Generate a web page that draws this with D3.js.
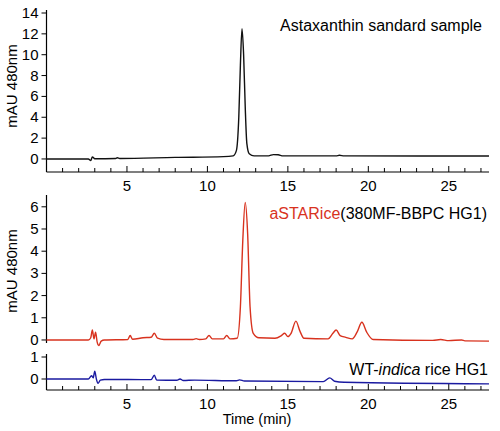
<!DOCTYPE html>
<html><head><meta charset="utf-8">
<script src="https://cdn.jsdelivr.net/npm/d3@7"></script>
<style>body{margin:0;background:#fff}text{font-family:"Liberation Sans",Arial,sans-serif}</style>
</head><body><svg id="c" width="500" height="431"></svg>
<script>
// [time (min), mAU]
const standard = [[0,0],[2.6,0],[2.75,-0.15],[2.85,0.2],[3.0,0.02],[4.3,0.05],[4.4,0.12],[4.55,0.05],[8,0.15],[11,0.22],[11.6,0.3],[11.8,0.8],[11.95,4],[12.05,9],[12.15,12.5],[12.25,10],[12.35,5],[12.45,1.5],[12.6,0.5],[12.9,0.3],[13.8,0.3],[14.1,0.42],[14.4,0.4],[14.7,0.3],[18,0.3],[18.2,0.35],[18.5,0.3],[27.5,0.28]];
const astarice = [[0,0],[2.6,0],[2.75,0.1],[2.85,0.45],[2.95,0.05],[3.05,0.35],[3.15,-0.1],[3.25,-0.25],[3.4,-0.05],[3.6,0],[5.05,0.02],[5.2,0.2],[5.35,0.03],[6.0,0.1],[6.5,0.12],[6.7,0.3],[6.9,0.08],[7.3,0.02],[9.1,0.02],[9.3,0.06],[9.5,0.02],[9.9,0.05],[10.1,0.2],[10.3,0.05],[11.0,0.05],[11.2,0.2],[11.4,0.05],[11.85,0.08],[12.05,1.5],[12.2,4.5],[12.35,6.2],[12.5,4.8],[12.65,1.5],[12.85,0.3],[13.2,0.1],[14.2,0.08],[14.6,0.2],[14.8,0.3],[15.0,0.15],[15.2,0.3],[15.5,0.85],[15.75,0.4],[16.0,0.08],[17.5,0.05],[17.8,0.3],[18.0,0.45],[18.25,0.2],[18.6,0.12],[19.0,0.05],[19.3,0.35],[19.6,0.8],[19.9,0.35],[20.3,0.02],[24,-0.02],[24.5,0.02],[25,-0.03],[25.8,0.0],[26,-0.04],[27.5,-0.05]];
const wildtype = [[0,0],[2.6,0],[2.8,0.15],[2.9,0.05],[3.0,0.35],[3.1,0.0],[3.2,-0.2],[3.35,-0.05],[3.6,-0.02],[6.5,-0.03],[6.7,0.17],[6.85,-0.05],[8.1,-0.06],[8.3,0.0],[8.5,-0.07],[9.2,-0.05],[11.8,-0.08],[12,-0.04],[12.3,-0.09],[17.2,-0.12],[17.6,0.05],[17.9,-0.1],[18.5,-0.15],[27.5,-0.22]];
const xTicks = [5, 10, 15, 20, 25];

const svg = d3.select('#c');
const x = d3.scaleLinear().domain([0, 27.5]).range([46.5, 489]);
const minor = d3.range(1, 28);

function panel(data, color, yDom, yRange, yTicks, xAxisY, axisTop, showX) {
    const y = d3.scaleLinear().domain(yDom).range(yRange);
    const g = svg.append('g');
    g.append('line').attr('x1', x(0)).attr('x2', x(0)).attr('y1', axisTop).attr('y2', xAxisY).attr('stroke', '#000').attr('stroke-width', 1.2);
    yTicks.forEach(t => {
        g.append('line').attr('x1', x(0) - 5).attr('x2', x(0)).attr('y1', y(t)).attr('y2', y(t)).attr('stroke', '#000');
        g.append('text').attr('x', x(0) - 8).attr('y', y(t) + 5).attr('text-anchor', 'end').attr('font-size', 15).text(t);
    });
    if (showX) {
        g.append('line').attr('x1', x(0)).attr('x2', x(27.5)).attr('y1', xAxisY).attr('y2', xAxisY).attr('stroke', '#000').attr('stroke-width', 1.2);
        minor.forEach(t => {
            const major = t % 5 === 0;
            g.append('line').attr('x1', x(t)).attr('x2', x(t)).attr('y1', xAxisY).attr('y2', xAxisY - (major ? 6 : 4)).attr('stroke', '#000');
        });
        xTicks.forEach(t => g.append('text').attr('x', x(t)).attr('y', xAxisY + 19).attr('text-anchor', 'middle').attr('font-size', 15).text(t));
    }
    const line = d3.line().x(d => x(d[0])).y(d => y(d[1])).curve(d3.curveMonotoneX);
    g.append('path').datum(data).attr('d', line).attr('fill', 'none').attr('stroke', color).attr('stroke-width', 1.4);
    return y;
}

panel(standard, '#111', [-1.25, 14], [172, 13], [0, 2, 4, 6, 8, 10, 12, 14], 172, 10, true);
panel(astarice, '#d8321e', [-0.1, 6], [342.2, 206.8], [0, 1, 2, 3, 4, 5, 6], 343, 195, false);
panel(wildtype, '#1a1aa0', [-0.5, 1], [390, 357], [0, 1], 390, 354, true);

svg.append('text').attr('transform', 'translate(17,86) rotate(-90)').attr('text-anchor', 'middle').attr('font-size', 15).text('mAU 480nm');
svg.append('text').attr('transform', 'translate(17,271) rotate(-90)').attr('text-anchor', 'middle').attr('font-size', 15).text('mAU 480nm');
svg.append('text').attr('x', 482).attr('y', 31).attr('text-anchor', 'end').attr('font-size', 16).text('Astaxanthin sandard sample');
const t2 = svg.append('text').attr('x', 487).attr('y', 219).attr('text-anchor', 'end').attr('font-size', 16);
t2.append('tspan').attr('fill', '#d8321e').text('aSTARice');
t2.append('tspan').text('(380MF-BBPC HG1)');
const t3 = svg.append('text').attr('x', 488).attr('y', 375).attr('text-anchor', 'end').attr('font-size', 16);
t3.append('tspan').text('WT-');
t3.append('tspan').attr('font-style', 'italic').text('indica');
t3.append('tspan').text(' rice HG1');
svg.append('text').attr('x', 257).attr('y', 424).attr('text-anchor', 'middle').attr('font-size', 14.5).text('Time (min)');
</script></body></html>
